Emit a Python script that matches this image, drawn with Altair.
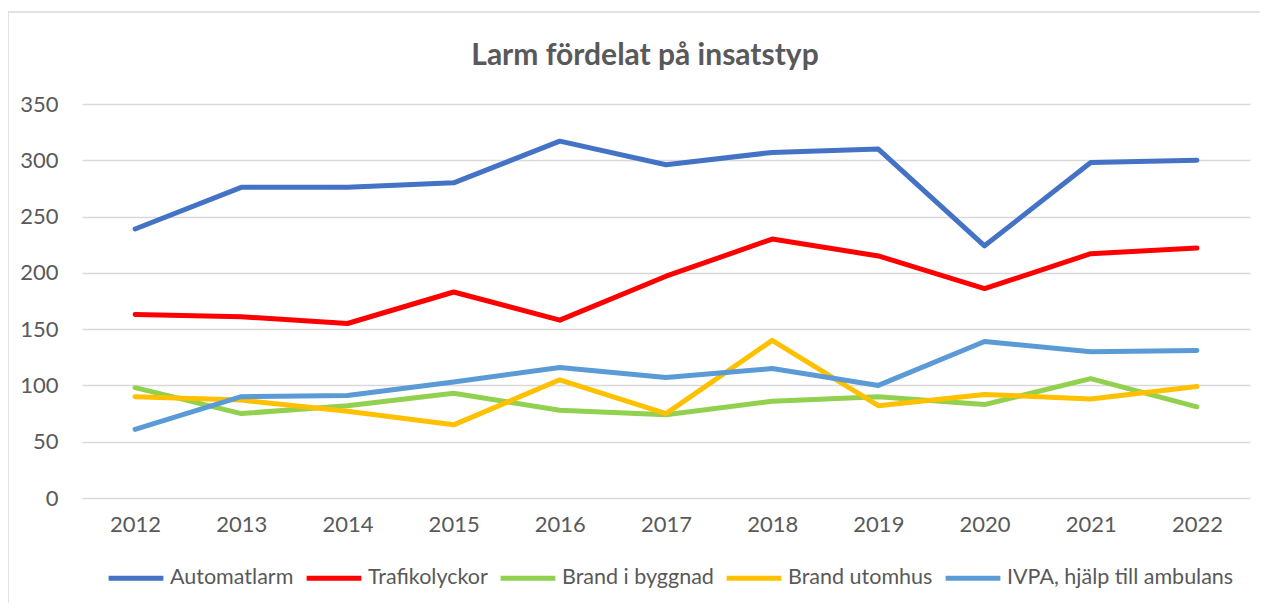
import altair as alt
import pandas as pd

years = ["2012", "2013", "2014", "2015", "2016", "2017", "2018", "2019", "2020", "2021", "2022"]
series_names = ["Automatlarm", "Trafikolyckor", "Brand i byggnad", "Brand utomhus", "IVPA, hjälp till ambulans"]
automatlarm = [239, 276, 276, 280, 317, 296, 307, 310, 224, 298, 300]
trafikolyckor = [163, 161, 155, 183, 158, 197, 230, 215, 186, 217, 222]
brand_byggnad = [98, 75, 82, 93, 78, 74, 86, 90, 83, 106, 81]
brand_utomhus = [90, 87, 77, 65, 105, 75, 140, 82, 92, 88, 99]
ivpa = [61, 90, 91, 103, 116, 107, 115, 100, 139, 130, 131]
colors = ["#4472C4", "#FF0000", "#92D050", "#FFC000", "#5B9BD5"]

rows = []
for name, vals in zip(series_names, [automatlarm, trafikolyckor, brand_byggnad, brand_utomhus, ivpa]):
    for y, v in zip(years, vals):
        rows.append({"År": y, "Insatstyp": name, "Antal": v})
df = pd.DataFrame(rows)

font = "Lato"
gray = "#595959"

lines = alt.Chart(df).mark_line(strokeWidth=5, strokeCap="round", strokeJoin="round").encode(
    x=alt.X("År:O", scale=alt.Scale(type="point", padding=0.5), title=None,
            axis=alt.Axis(labelAngle=0, ticks=False, domain=False, grid=False,
                          labelFontSize=22, labelColor=gray, labelFont=font, labelPadding=16)),
    y=alt.Y("Antal:Q", scale=alt.Scale(domain=[0, 350]), title=None,
            axis=alt.Axis(values=[0, 50, 100, 150, 200, 250, 300, 350], ticks=False, domain=False,
                          grid=True, gridColor="#d9d9d9", gridWidth=1.3,
                          labelFontSize=22, labelColor=gray, labelFont=font, labelPadding=24)),
    color=alt.Color("Insatstyp:N", scale=alt.Scale(domain=series_names, range=colors),
                    sort=series_names,
                    legend=alt.Legend(title=None, orient="none", direction="horizontal",
                                      legendX=24, legendY=444, symbolType="stroke",
                                      symbolSize=3000, symbolStrokeWidth=5,
                                      labelFontSize=21.5, labelColor=gray, labelFont=font,
                                      labelLimit=500, columnPadding=2, labelOffset=4, columns=5)),
    order=alt.Order("År:O"),
)

border = alt.Chart(pd.DataFrame({"b": [0]})).mark_rect(
    fill="white", fillOpacity=0, stroke="#d9d9d9", strokeWidth=1.5
).encode(
    x=alt.value(-74), x2=alt.value(1200), y=alt.value(-92), y2=alt.value(520)
)

chart = alt.layer(border, lines).properties(
    width=1168, height=394,
    padding={"left": 74, "top": 96, "right": 10, "bottom": 105},
    autosize=alt.AutoSizeParams(type="none"),
    title=alt.TitleParams("Larm fördelat på insatstyp", font=font, fontSize=30, fontWeight="bold",
                          color=gray, anchor="middle", offset=-60, dx=-21),
).configure(background="white").configure_view(stroke=None)

chart.save("out.html", embed_options={"renderer": "svg", "actions": False})
